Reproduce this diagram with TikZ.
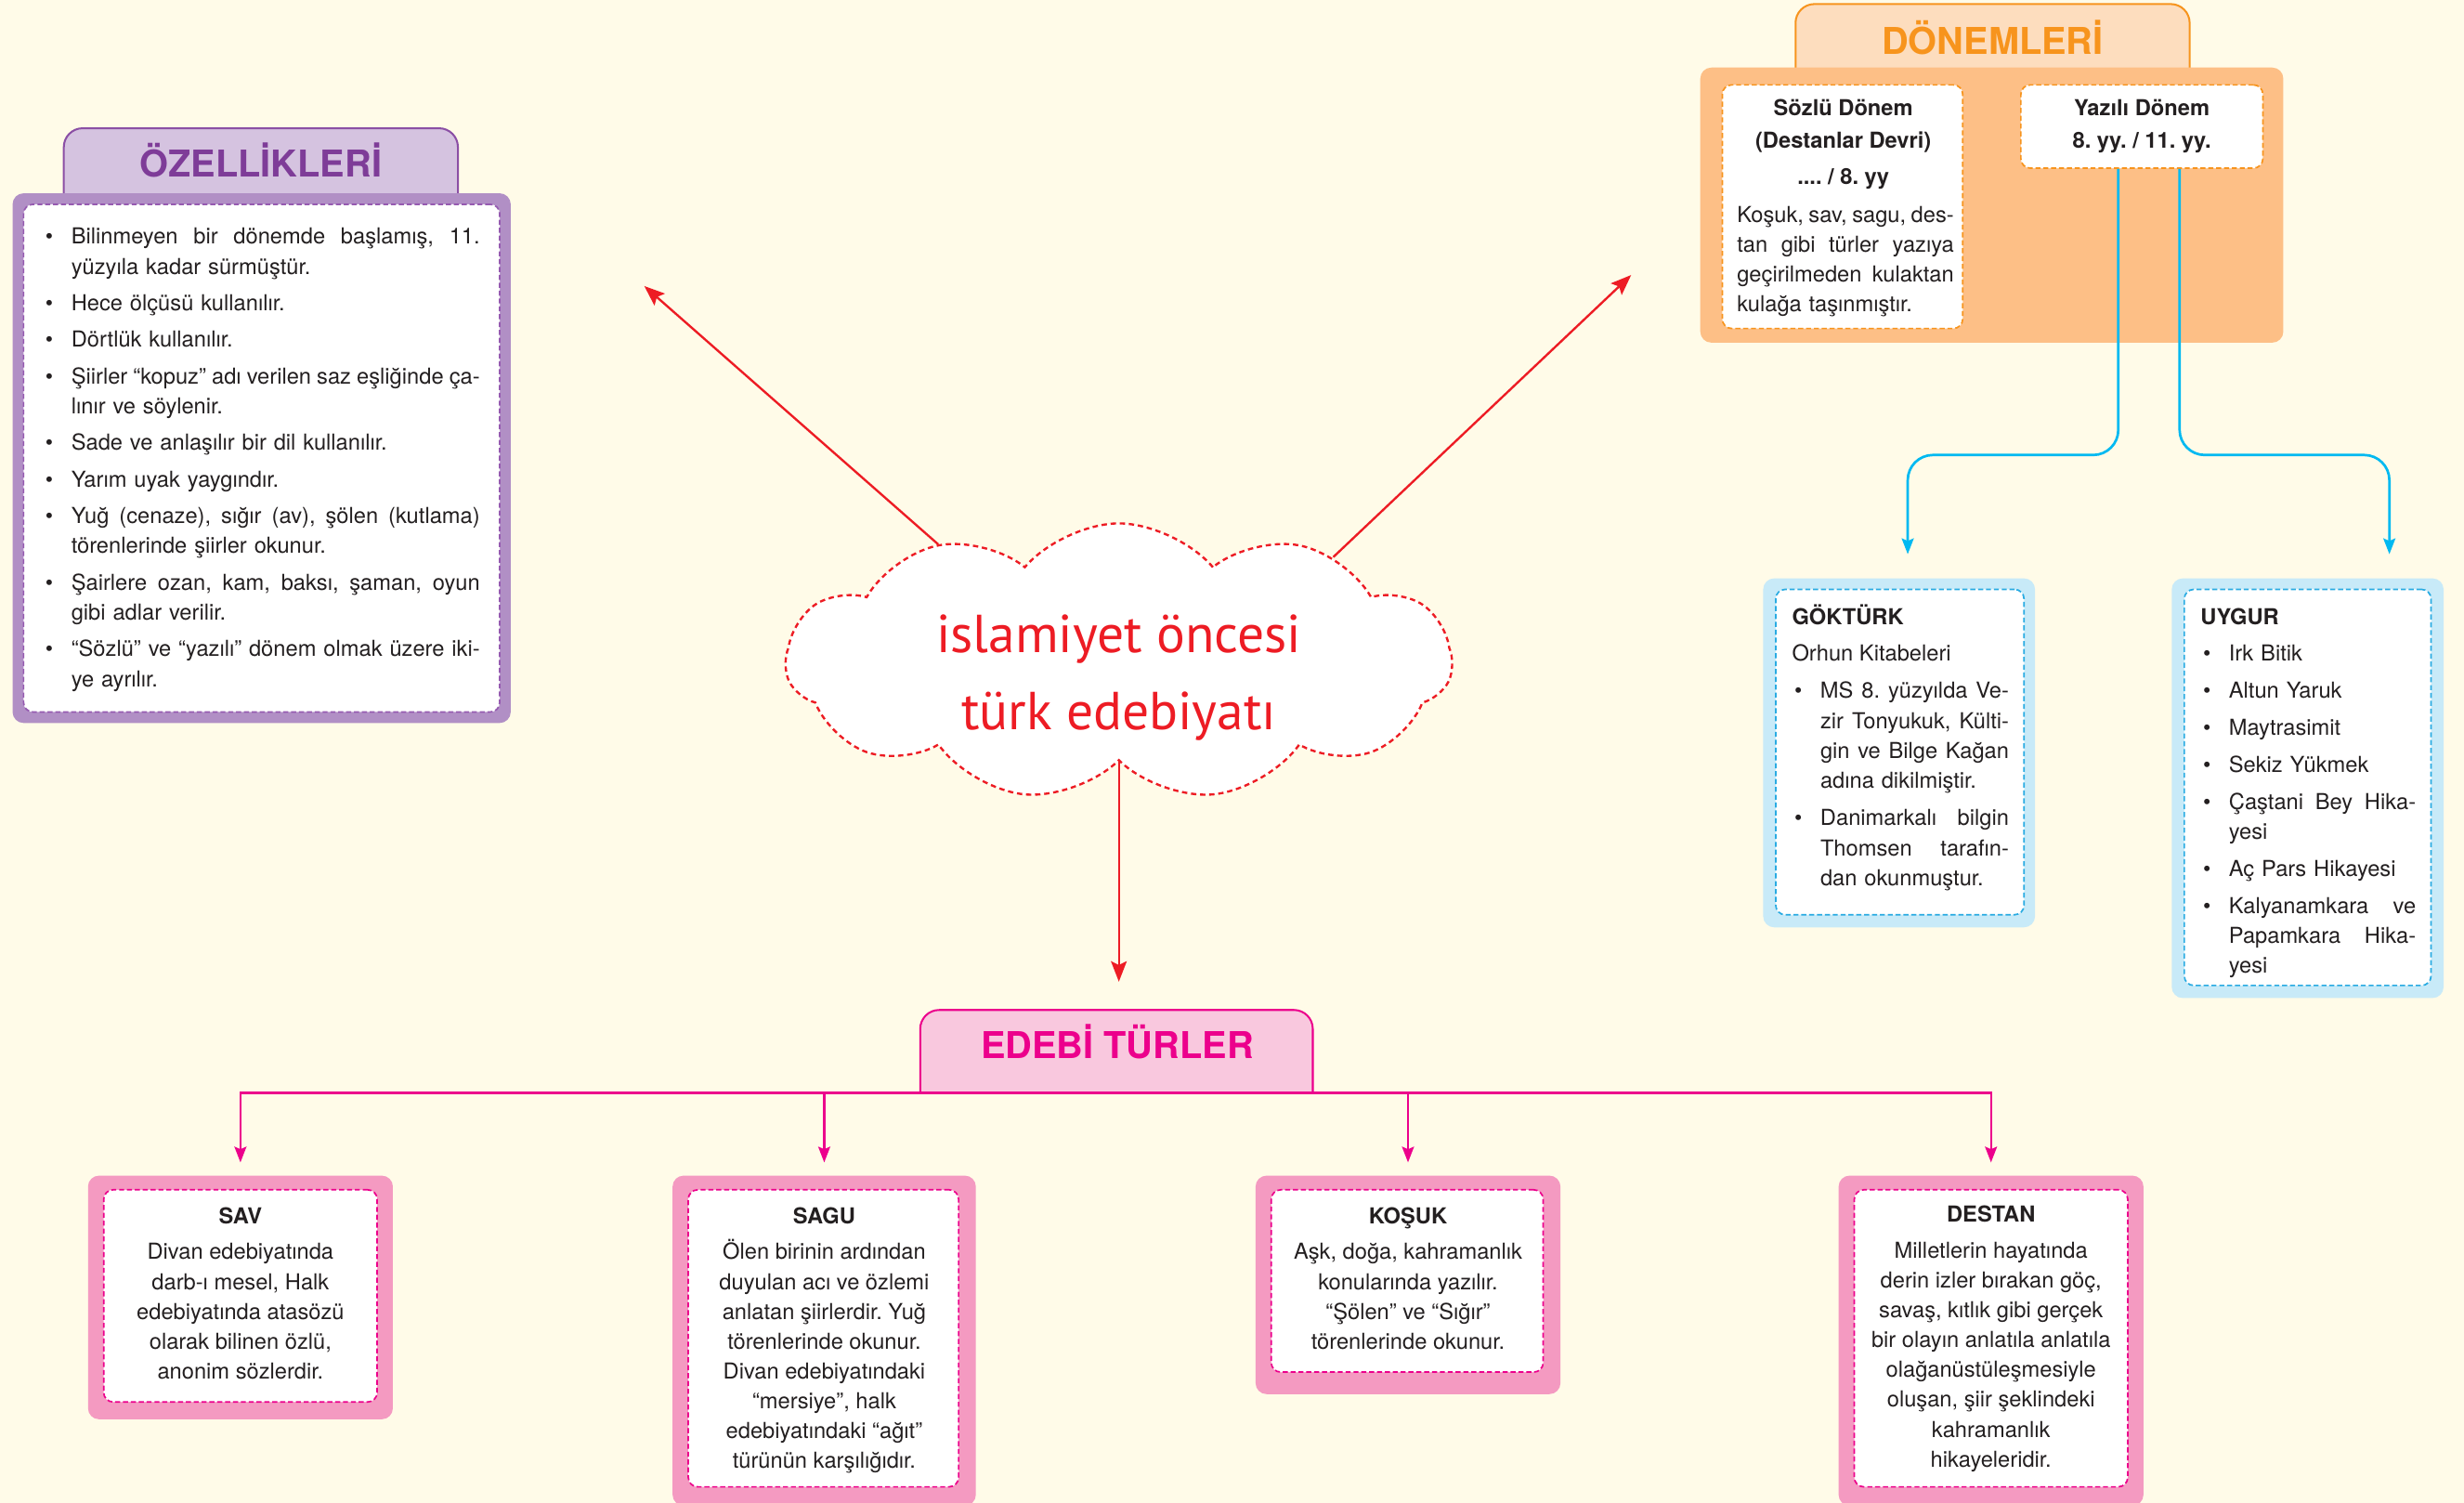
\documentclass[tikz,border=0pt]{standalone}
\usepackage{fontspec}
\setmainfont{TeX Gyre Heros}
\newfontfamily\cloudfont{PT Sans}
\usetikzlibrary{arrows.meta,shapes.symbols,fit}
\definecolor{bgc}{HTML}{FFFBE8}
\definecolor{ink}{HTML}{231F20}
\definecolor{purTab}{HTML}{D5C3E0}
\definecolor{purLine}{HTML}{8B4FA5}
\definecolor{purTitle}{HTML}{7E3C98}
\definecolor{purOuter}{HTML}{B18FC5}
\definecolor{purDash}{HTML}{955AB0}
\definecolor{orTab}{HTML}{FDDDBE}
\definecolor{orLine}{HTML}{F7941D}
\definecolor{orOuter}{HTML}{FDBF86}
\definecolor{cyOuter}{HTML}{C8EAF8}
\definecolor{cyDash}{HTML}{29ABE2}
\definecolor{cyLine}{HTML}{00B9F1}
\definecolor{pkTab}{HTML}{F9C8DE}
\definecolor{mag}{HTML}{EC008C}
\definecolor{pkOuter}{HTML}{F49AC1}
\definecolor{redc}{HTML}{ED1C24}
\newcommand\jl[1]{\leavevmode\hbox to \hsize{\spaceskip=0pt\xspaceskip=0pt #1}}
\newcommand\bul{\leavevmode\hbox to 0pt{\hss\textbullet\hskip 5.8pt}}
\tikzset{
  obox/.style={inner sep=0pt, rounded corners=3.5pt, draw=none},
  ibox/.style={inner sep=0pt, rounded corners=3pt, fill=white, line width=0.5pt, dash pattern=on 1.6pt off 0.9pt},
  tabshape/.style={line width=0.6pt, rounded corners=6pt},
  ttl/.style={inner sep=0pt, anchor=base, font=\fontsize{11.75}{14}\selectfont\bfseries},
  txt/.style={inner sep=0pt, anchor=north west, align=left, text=ink, font=\fontsize{7}{9.5}\selectfont\frenchspacing},
  ctxt/.style={inner sep=0pt, anchor=north, align=center, text=ink, font=\fontsize{7}{9.5}\selectfont\frenchspacing},
  redarrow/.style={draw=redc, line width=0.7pt, -{Stealth[length=6.5pt,width=5pt,inset=1.2pt]}},
  cyanarrow/.style={draw=cyLine, line width=0.8pt, rounded corners=8pt, -{Stealth[length=5pt,width=3.8pt,inset=0.8pt]}, shorten >=7.5pt},
  pinkarrow/.style={draw=mag, line width=0.7pt, -{Stealth[length=5pt,width=3.8pt,inset=0.8pt]}, shorten >=4pt},
}
\begin{document}
\frenchspacing
\begin{tikzpicture}[x=0.5pt,y=-0.5pt]
\fill[bgc] (0,0) rectangle (1568,956);
\useasboundingbox (0,0) rectangle (1568,956);

% ---------- ÖZELLİKLERİ ----------
\node[fit={(41,82) (291,130)}, inner sep=0pt] (ozTab) {};
\filldraw[tabshape, fill=purTab, draw=purLine] (ozTab.south west) -- (ozTab.north west) -- (ozTab.north east) -- (ozTab.south east);
\node[ttl, text=purTitle] (ozTitle) at (166,112.5) {ÖZELLİKLERİ};
\node[obox, fill=purOuter, fit={(8,123) (325,460)}] (ozOuter) {};
\node[ibox, draw=purDash, fit={(15,130) (318,453)}] (ozInner) {};
\node[txt, text width=130pt, font=\fontsize{7}{9.6}\selectfont\frenchspacing] (ozText) at (45,141.6) {\strut\bul\jl{Bilinmeyen bir dönemde başlamış, 11.}\\
yüzyıla kadar sürmüştür.\\[2pt]
\bul Hece ölçüsü kullanılır.\\[2pt]
\bul Dörtlük kullanılır.\\[2pt]
\bul\jl{Şiirler “kopuz” adı verilen saz eşliğinde ça-}\\
lınır ve söylenir.\\[2pt]
\bul Sade ve anlaşılır bir dil kullanılır.\\[2pt]
\bul Yarım uyak yaygındır.\\[2pt]
\bul\jl{Yuğ (cenaze), sığır (av), şölen (kutlama)}\\
törenlerinde şiirler okunur.\\[2pt]
\bul\jl{Şairlere ozan, kam, baksı, şaman, oyun}\\
gibi adlar verilir.\\[2pt]
\bul\jl{“Sözlü” ve “yazılı” dönem olmak üzere iki-}\\
ye ayrılır.};

% ---------- DÖNEMLERİ ----------
\node[fit={(1143,3) (1393,50)}, inner sep=0pt] (donTab) {};
\filldraw[tabshape, fill=orTab, draw=orLine] (donTab.south west) -- (donTab.north west) -- (donTab.north east) -- (donTab.south east);
\node[ttl, text=orLine] (donTitle) at (1268,34.5) {DÖNEMLERİ};
\node[obox, fill=orOuter, fit={(1082,43) (1453,218)}] (donOuter) {};
\node[ibox, draw=orLine, fit={(1096,54) (1249,209)}] (sozlu) {};
\node[ibox, draw=orLine, fit={(1286,54) (1440,107)}] (yazili) {};
\node[ctxt, font=\fontsize{7}{10.5}\selectfont\bfseries\frenchspacing] (sozluT) at (1173,58.3) {\strut Sözlü Dönem\\(Destanlar Devri)\\[1pt].... / 8. yy};
\node[txt, text width=69pt] (sozluP) at (1105,127.7) {\strut\jl{Koşuk, sav, sagu, des-}\\
\jl{tan gibi türler yazıya}\\
\jl{geçirilmeden kulaktan}\\
kulağa taşınmıştır.};
\node[ctxt, font=\fontsize{7}{10.5}\selectfont\bfseries\frenchspacing] (yaziliT) at (1363,58.3) {\strut Yazılı Dönem\\8. yy. / 11. yy.};

% ---------- GÖKTÜRK ----------
\node[obox, fill=cyOuter, fit={(1122,368) (1295,590)}] (gokOuter) {};
\node[ibox, draw=cyDash, fit={(1130,375) (1288,582)}] (gokInner) {};
\node[txt] (gokHead) at (1140,383.7) {\strut\textbf{GÖKTÜRK}\\[2pt]Orhun Kitabeleri};
\node[txt, text width=60pt] (gokList) at (1158,430.7) {\strut\bul\jl{MS 8. yüzyılda Ve-}\\
\jl{zir Tonyukuk, Külti-}\\
\jl{gin ve Bilge Kağan}\\
adına dikilmiştir.\\[2.5pt]
\bul\jl{Danimarkalı bilgin}\\
\jl{Thomsen tarafın-}\\
dan okunmuştur.};

% ---------- UYGUR ----------
\node[obox, fill=cyOuter, fit={(1382,368) (1555,635)}] (uygOuter) {};
\node[ibox, draw=cyDash, fit={(1390,375) (1547,627)}] (uygInner) {};
\node[txt] (uygHead) at (1400,383.7) {\strut\textbf{UYGUR}};
\node[txt, text width=59.5pt] (uygList) at (1418,406.7) {\strut\bul Irk Bitik\\[2.3pt]
\bul Altun Yaruk\\[2.3pt]
\bul Maytrasimit\\[2.3pt]
\bul Sekiz Yükmek\\[2.3pt]
\bul\jl{Çaştani Bey Hika-}\\
yesi\\[2.3pt]
\bul Aç Pars Hikayesi\\[2.3pt]
\bul\jl{Kalyanamkara ve}\\
\jl{Papamkara Hika-}\\
yesi};

% ---------- EDEBİ TÜRLER ----------
\node[fit={(586,643) (835,695)}, inner sep=0pt] (edTab) {};
\filldraw[tabshape, fill=pkTab, draw=mag] (edTab.south west) -- (edTab.north west) -- (edTab.north east) -- (edTab.south east);
\node[ttl, text=mag] (edTitle) at (711,673.5) {EDEBİ TÜRLER};

\node[obox, fill=pkOuter, fit={(56,748) (250,903)}] (sav) {};
\node[ibox, draw=mag, fit={(66,757) (240,892)}] (savIn) {};
\node[ctxt] (savT) at (153,764.7) {\strut\textbf{SAV}\\[2pt]Divan edebiyatında\\darb-ı mesel, Halk\\edebiyatında atasözü\\olarak bilinen özlü,\\anonim sözlerdir.};

\node[obox, fill=pkOuter, fit={(428,748) (621,958)}] (sagu) {};
\node[ibox, draw=mag, fit={(438,757) (610,946)}] (saguIn) {};
\node[ctxt] (saguT) at (524.5,764.7) {\strut\textbf{SAGU}\\[2pt]Ölen birinin ardından\\duyulan acı ve özlemi\\anlatan şiirlerdir. Yuğ\\törenlerinde okunur.\\Divan edebiyatındaki\\“mersiye”, halk\\edebiyatındaki “ağıt”\\türünün karşılığıdır.};

\node[obox, fill=pkOuter, fit={(799,748) (993,887)}] (kosuk) {};
\node[ibox, draw=mag, fit={(809,757) (982,873)}] (kosukIn) {};
\node[ctxt] (kosukT) at (896,764.7) {\strut\textbf{KOŞUK}\\[2pt]Aşk, doğa, kahramanlık\\konularında yazılır.\\“Şölen” ve “Sığır”\\törenlerinde okunur.};

\node[obox, fill=pkOuter, fit={(1170,748) (1364,958)}] (destan) {};
\node[ibox, draw=mag, fit={(1180,757) (1354,946)}] (destanIn) {};
\node[ctxt] (destanT) at (1267,763.7) {\strut\textbf{DESTAN}\\[2pt]Milletlerin hayatında\\derin izler bırakan göç,\\savaş, kıtlık gibi gerçek\\bir olayın anlatıla anlatıla\\olağanüstüleşmesiyle\\oluşan, şiir şeklindeki\\kahramanlık\\hikayeleridir.};

% ---------- cloud ----------
\node[cloud, cloud puffs=11, cloud puff arc=100, cloud ignores aspect, minimum width=212pt, minimum height=88pt, draw=redc, fill=white, line width=0.7pt, dash pattern=on 1.7pt off 1.2pt] (cloud) at (712,421) {};
\node[inner sep=0pt, anchor=north, align=center, text=redc, font=\cloudfont\fontsize{17}{24.5}\selectfont] (cloudT) at (712,380.3) {\strut islamiyet öncesi\\türk edebiyatı};

% ---------- connectors ----------
\coordinate (ozEnd) at (410,182);
\coordinate (donEnd) at (1038,175);
\draw[redarrow] (cloud.147) -- (ozEnd);
\draw[redarrow] (cloud.26) -- (donEnd);
\draw[redarrow, shorten >=9pt] (cloud.south) -- (cloud.south |- edTab.north);

\draw[cyanarrow] ([xshift=-7.5pt]yazili.south) -- ++(0,182) -| ([xshift=2.75pt]gokOuter.north);
\draw[cyanarrow] ([xshift=12pt]yazili.south) -- ++(0,182) -| ([xshift=26pt]uygOuter.north);

\draw[pinkarrow] (edTab.south) -| (sav.north);
\draw[pinkarrow] (edTab.south) -| (sagu.north);
\draw[pinkarrow] (edTab.south) -| (kosuk.north);
\draw[pinkarrow] (edTab.south) -| (destan.north);
\end{tikzpicture}
\end{document}
